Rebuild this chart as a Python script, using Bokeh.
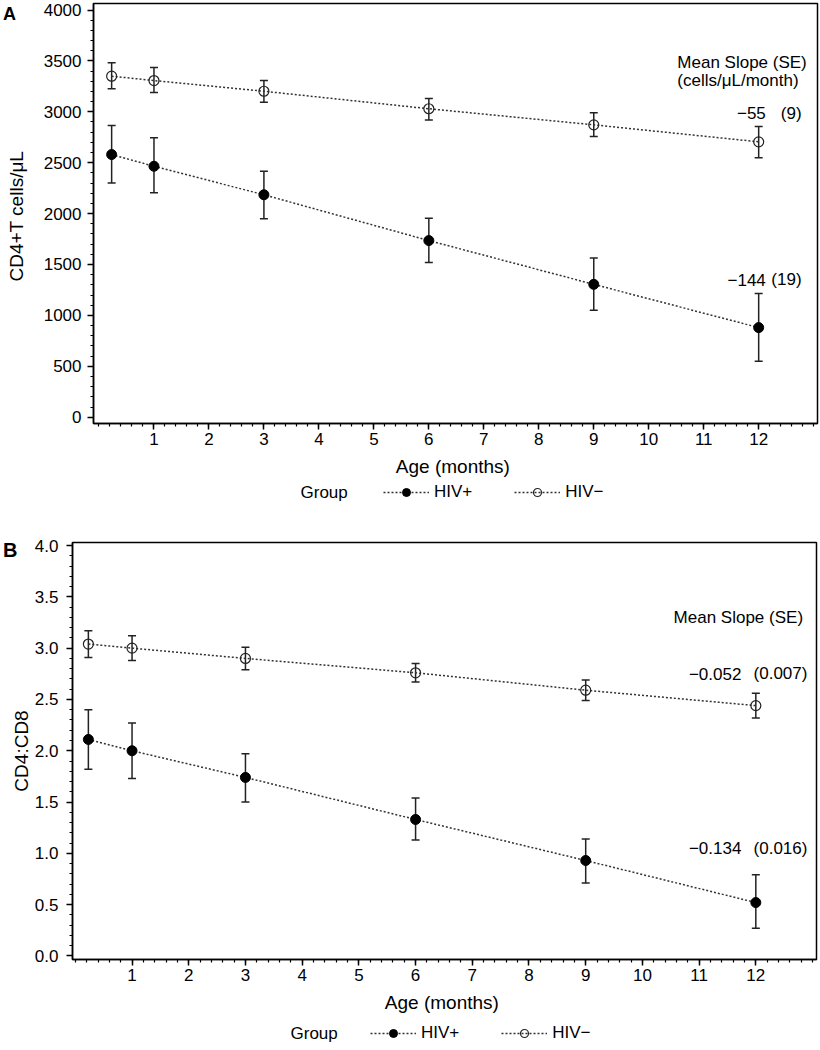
from bokeh.plotting import figure
from bokeh.models import (Range1d, FixedTicker, SingleIntervalTicker, Whisker, TeeHead,
                          ColumnDataSource, Label, Legend, LegendItem, NumeralTickFormatter, Div)
from bokeh.layouts import column
from bokeh.embed import file_html
from bokeh.resources import INLINE

FONT = "Liberation Sans"

# ---------------- data ----------------
ages = [0.23, 1, 3, 6, 9, 12]
groups = ["HIV+", "HIV\u2212"]
legend_title = "Group"
panel_letters = ["A", "B"]
x_ticks = [1, 2, 3, 4, 5, 6, 7, 8, 9, 10, 11, 12]

cd4_pos = [2580, 2465, 2185, 1735, 1305, 880]
cd4_pos_lo = [2300, 2205, 1950, 1520, 1050, 550]
cd4_pos_hi = [2865, 2745, 2415, 1955, 1565, 1215]
cd4_neg = [3350, 3307, 3202, 3030, 2872, 2705]
cd4_neg_lo = [3226, 3190, 3094, 2920, 2757, 2548]
cd4_neg_hi = [3481, 3435, 3307, 3130, 2990, 2856]

ratio_pos = [2.11, 2.00, 1.74, 1.33, 0.93, 0.52]
ratio_pos_lo = [1.82, 1.73, 1.50, 1.13, 0.71, 0.27]
ratio_pos_hi = [2.40, 2.27, 1.97, 1.54, 1.14, 0.79]
ratio_neg = [3.04, 3.00, 2.90, 2.76, 2.59, 2.44]
ratio_neg_lo = [2.91, 2.88, 2.79, 2.67, 2.49, 2.32]
ratio_neg_hi = [3.17, 3.12, 3.01, 2.85, 2.69, 2.56]

header_a = ["Mean Slope (SE)", "(cells/\u03bcL/month)"]
slope_a = ["\u221255", "\u2212144"]
se_a = ["(9)", "(19)"]
header_b = ["Mean Slope (SE)"]
slope_b = ["\u22120.052", "\u22120.134"]
se_b = ["(0.007)", "(0.016)"]

LINE_COLOR = "#333333"
BAR_COLOR = "#222222"
LINE_KW = dict(line_color=LINE_COLOR, line_width=1.5, line_dash="2 2")
POS_KW = dict(marker="circle", size=10, fill_color="black", line_color="black")
NEG_KW = dict(marker="circle", size=10, fill_alpha=0, line_color=BAR_COLOR, line_width=1.2)


def style_axes(p, ylabel, y_standoff, y_label_standoff):
    p.grid.visible = False
    p.outline_line_color = "black"
    p.outline_line_width = 1.5
    p.background_fill_color = "white"
    p.border_fill_color = "white"
    for ax in (p.xaxis[0], p.yaxis[0]):
        ax.axis_line_width = 1.5
        ax.axis_line_color = "black"
        ax.major_tick_out = 6
        ax.major_tick_in = 0
        ax.minor_tick_out = 3
        ax.minor_tick_in = 0
        ax.major_tick_line_width = 1.5
        ax.minor_tick_line_width = 1.2
        ax.major_label_text_font = FONT
        ax.major_label_text_font_size = "17px"
        ax.major_label_text_color = "black"
        ax.axis_label_text_font = FONT
        ax.axis_label_text_font_size = "19px"
        ax.axis_label_text_font_style = "normal"
        ax.axis_label_text_color = "black"
    p.xaxis[0].ticker = FixedTicker(ticks=x_ticks,
                                    minor_ticks=[round(i * 0.2, 1) for i in range(0, 66)])
    p.xaxis[0].axis_label = "Age  (months)"
    p.xaxis[0].major_label_standoff = 3
    p.xaxis[0].axis_label_standoff = 8
    p.yaxis[0].axis_label = ylabel
    p.yaxis[0].major_label_standoff = y_standoff
    p.yaxis[0].axis_label_standoff = y_label_standoff


def make_sources(pos, pos_lo, pos_hi, neg, neg_lo, neg_hi):
    return (ColumnDataSource(dict(x=ages, y=pos, lo=pos_lo, hi=pos_hi)),
            ColumnDataSource(dict(x=ages, y=neg, lo=neg_lo, hi=neg_hi)))


def add_series(p, src, filled):
    p.line("x", "y", source=src, **LINE_KW)
    wh = Whisker(base="x", upper="hi", lower="lo", source=src, line_color=BAR_COLOR,
                 line_width=1.5,
                 upper_head=TeeHead(size=8, line_width=1.5, line_color=BAR_COLOR),
                 lower_head=TeeHead(size=8, line_width=1.5, line_color=BAR_COLOR))
    p.add_layout(wh)
    p.scatter("x", "y", source=src, **(POS_KW if filled else NEG_KW))


def legend_fig(height, sources, glyph_x, legend_y, group_x, group_y):
    """A strip below a panel that holds the group legend (its own frame, no axes).
    Its renderers use the panel's data, but the strip's ranges keep them out of view."""
    q = figure(width=820, height=height, x_range=Range1d(-2, -1), y_range=Range1d(-2, -1),
               output_backend="svg", toolbar_location=None, x_axis_location=None,
               y_axis_location=None, min_border=0)
    q.grid.visible = False
    q.outline_line_color = None
    q.background_fill_color = "white"
    q.border_fill_color = "white"
    items = []
    for name, src, kw in zip(groups, sources, (POS_KW, NEG_KW)):
        ln = q.line("x", "y", source=src, **LINE_KW)
        sc = q.scatter("x", "y", source=src, **dict(kw, size=7))
        items.append(LegendItem(label=name, renderers=[ln, sc]))
    q.add_layout(Legend(items=items, location=(glyph_x, legend_y), orientation="horizontal",
                        glyph_width=46, glyph_height=20, label_standoff=5, spacing=42,
                        padding=0, margin=0, border_line_color=None,
                        background_fill_alpha=0, label_text_font=FONT,
                        label_text_font_size="17px", label_text_color="black"))
    q.add_layout(Label(x=group_x, y=group_y, x_units="screen", y_units="screen",
                       text=legend_title, text_font=FONT, text_font_size="17px",
                       text_baseline="middle", text_color="black"))
    return q


def txt(p, x, y, s, align="left"):
    p.add_layout(Label(x=x, y=y, text=s, text_font=FONT, text_font_size="17px",
                       text_align=align, text_baseline="middle", text_color="black"))


# ---------------- panel A ----------------
srcA = make_sources(cd4_pos, cd4_pos_lo, cd4_pos_hi, cd4_neg, cd4_neg_lo, cd4_neg_hi)
pA = figure(width=820, height=481, x_range=Range1d(-0.1, 13.07), y_range=Range1d(-62, 4064),
            output_backend="svg", toolbar_location=None,
            min_border_left=93, min_border_right=3, min_border_top=3, min_border_bottom=58)
style_axes(pA, "CD4+T  cells/\u03bcL", 6, 14)
pA.yaxis[0].ticker = SingleIntervalTicker(interval=500, num_minor_ticks=5)
add_series(pA, srcA[0], True)
add_series(pA, srcA[1], False)
txt(pA, 10.52, 3487, header_a[0])
txt(pA, 10.52, 3307, header_a[1])
txt(pA, 12.13, 2986, slope_a[0], align="right")
txt(pA, 12.78, 2986, se_a[0], align="right")
txt(pA, 12.13, 1351, slope_a[1], align="right")
txt(pA, 12.78, 1351, se_a[1], align="right")
legA = legend_fig(34, srcA, 383, 13, 300, 23)

# ---------------- panel B ----------------
srcB = make_sources(ratio_pos, ratio_pos_lo, ratio_pos_hi, ratio_neg, ratio_neg_lo, ratio_neg_hi)
pB = figure(width=820, height=504, x_range=Range1d(-0.05, 13.07), y_range=Range1d(-0.035, 4.03),
            output_backend="svg", toolbar_location=None,
            min_border_left=72, min_border_right=4, min_border_top=27, min_border_bottom=60)
style_axes(pB, "CD4:CD8", 8, 0)
pB.yaxis[0].ticker = SingleIntervalTicker(interval=0.5, num_minor_ticks=5)
pB.yaxis[0].formatter = NumeralTickFormatter(format="0.0")
add_series(pB, srcB[0], True)
add_series(pB, srcB[1], False)
txt(pB, 10.55, 3.30, header_b[0])
txt(pB, 10.82, 2.75, slope_b[0])
txt(pB, 11.96, 2.75, se_b[0])
txt(pB, 10.82, 1.05, slope_b[1])
txt(pB, 11.96, 1.05, se_b[1])
legB = legend_fig(29, srcB, 370, 5, 290, 15)

# panel letters (outside the plot frames), overlaid on the page
letters = Div(
    text=(f'<span style="position:absolute;left:-2px;top:-1px;font-family:\'Liberation Sans\';'
          f'font-weight:bold;font-size:18px;line-height:20px;">{panel_letters[0]}</span>'
          f'<span style="position:absolute;left:-2px;top:534px;font-family:\'Liberation Sans\';'
          f'font-weight:bold;font-size:20px;line-height:22px;">{panel_letters[1]}</span>'),
    width=30, height=565,
    styles={"position": "absolute", "left": "0px", "top": "0px", "z-index": "10",
            "overflow": "visible"})

# each figure in its own box so that their frames are not aligned with each other
layout = column(letters, column(pA), column(legA), column(pB), column(legB), spacing=0)
open("out.html", "w").write(file_html(layout, INLINE))
